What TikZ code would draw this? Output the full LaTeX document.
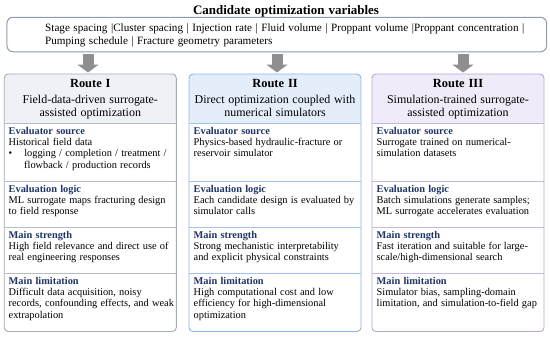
\documentclass[tikz,border=0pt]{standalone}
\usepackage{fontspec}
\setmainfont{Liberation Serif}[WordSpace=1.25]
\usetikzlibrary{arrows.meta}

\definecolor{navy}{HTML}{1F3566}
\definecolor{varline}{HTML}{8E9DB2}
\definecolor{arrgray}{HTML}{8F8F8F}
\definecolor{gryline}{HTML}{A3ABB5}
\definecolor{gryfill}{HTML}{EEF2F7}
\definecolor{bluline}{HTML}{8DB4E6}
\definecolor{blufill}{HTML}{E4EEFB}
\definecolor{purline}{HTML}{B7A5DA}
\definecolor{purfill}{HTML}{F0EBF8}

\newcommand{\lbl}[1]{{\color{navy}\bfseries #1}}
% first-line baseline stays at the node's base anchor
\newcommand{\leftlines}[1]{\begin{tabular}[t]{@{}l@{}}#1\end{tabular}}
\newcommand{\midlines}[1]{\begin{tabular}[t]{@{}c@{}}#1\end{tabular}}

\tikzset{
  routebox/.style 2 args={draw=#1, fill=white, line width=0.9bp, rounded corners=4bp,
    minimum width=172bp, minimum height=257.5bp, inner sep=0pt, outer sep=0pt,
    path picture={\fill[#2] (path picture bounding box.north west) rectangle ([yshift=-49.5bp]path picture bounding box.north east);}},
  rtitle/.style={anchor=base, inner sep=0pt, font=\bfseries\fontsize{12.5}{14}\selectfont},
  rsub/.style={anchor=base, inner sep=0pt, font=\fontsize{12}{13.2}\selectfont},
  sect/.style={anchor=base west, inner sep=0pt, font=\fontsize{10.4}{11.5}\selectfont},
  bigarrow/.style={arrgray, line width=11bp, -{Triangle[width=21bp,length=8bp]}, shorten <=2.5bp, shorten >=1.5bp}
}

\begin{document}
\begin{tikzpicture}[x=1bp, y=-1bp]
	\useasboundingbox (0,0) rectangle (550,336);
	% title and variable list
	\node[anchor=base, inner sep=0pt, font=\bfseries\fontsize{13}{15}\selectfont] (ttl) at (286,14) {Candidate optimization variables};
	\node[draw=varline, line width=1bp, rounded corners=6bp, fill=white, minimum width=539.5bp, minimum height=34.5bp, inner sep=0pt, outer sep=0pt] (vars) at (276.75,34.5) {};
	\node[anchor=base west, inner sep=0pt, font=\fontsize{11.2}{14}\selectfont] (varstxt) at (45,31) {\leftlines{Stage spacing |Cluster spacing | Injection rate | Fluid volume | Proppant volume |Proppant concentration |\\Pumping schedule | Fracture geometry parameters}};

	% route boxes
	\node[routebox={gryline}{gryfill}] (r1) at (90.3,202.75) {};
	\node[routebox={bluline}{blufill}] (r2) at (275,202.75) {};
	\node[routebox={purline}{purfill}] (r3) at (458,202.75) {};
	\foreach \r/\c in {r1/gryline, r2/bluline, r3/purline} {
		\foreach \d in {49.5,107.5,153,199}
			\draw[\c!80, line width=0.8bp] ([yshift=-\d bp]\r.north west) -- ([yshift=-\d bp]\r.north east);
	}

	% arrows
	\draw[bigarrow] (vars.south -| 88,0) -- (r1.north -| 88,0);
	\draw[bigarrow] (vars.south -| 277,0) -- (r2.north -| 277,0);
	\draw[bigarrow] (vars.south -| 463,0) -- (r3.north -| 463,0);

	% headers
	\node[rtitle] (r1h) at (90.3,87.5) {Route I};
	\node[rsub] (r1s) at (90.3,103.3) {\midlines{Field-data-driven surrogate-\\assisted optimization}};
	\node[rtitle] (r2h) at (275,87.5) {Route II};
	\node[rsub] (r2s) at (275,103.3) {\midlines{Direct optimization coupled with\\numerical simulators}};
	\node[rtitle] (r3h) at (458,87.5) {Route III};
	\node[rsub] (r3s) at (458,103.3) {\midlines{Simulation-trained surrogate-\\assisted optimization}};

	% Route I
	\node[sect] (r1a) at (8.5,134) {\leftlines{\lbl{Evaluator source}\\Historical field data\\\textbullet\hspace*{12bp}logging / completion / treatment /\\\hspace*{15.5bp}flowback / production records}};
	\node[sect] (r1b) at (8.5,192) {\leftlines{\lbl{Evaluation logic}\\ML surrogate maps fracturing design\\to field response}};
	\node[sect] (r1c) at (8.5,238) {\leftlines{\lbl{Main strength}\\High field relevance and direct use of\\real engineering responses}};
	\node[sect] (r1d) at (8.5,284) {\leftlines{\lbl{Main limitation}\\Difficult data acquisition, noisy\\records, confounding effects, and weak\\extrapolation}};

	% Route II
	\node[sect] (r2a) at (193.5,134) {\leftlines{\lbl{Evaluator source}\\Physics-based hydraulic-fracture or\\reservoir simulator}};
	\node[sect] (r2b) at (193.5,192) {\leftlines{\lbl{Evaluation logic}\\Each candidate design is evaluated by\\simulator calls}};
	\node[sect] (r2c) at (193.5,238) {\leftlines{\lbl{Main strength}\\Strong mechanistic interpretability\\and explicit physical constraints}};
	\node[sect] (r2d) at (193.5,284) {\leftlines{\lbl{Main limitation}\\High computational cost and low\\efficiency for high-dimensional\\optimization}};

	% Route III
	\node[sect] (r3a) at (376.5,134) {\leftlines{\lbl{Evaluator source}\\Surrogate trained on numerical-\\simulation datasets}};
	\node[sect] (r3b) at (376.5,192) {\leftlines{\lbl{Evaluation logic}\\Batch simulations generate samples;\\ML surrogate accelerates evaluation}};
	\node[sect] (r3c) at (376.5,238) {\leftlines{\lbl{Main strength}\\Fast iteration and suitable for large-\\scale/high-dimensional search}};
	\node[sect] (r3d) at (376.5,284) {\leftlines{\lbl{Main limitation}\\Simulator bias, sampling-domain\\limitation, and simulation-to-field gap}};
\end{tikzpicture}
\end{document}
